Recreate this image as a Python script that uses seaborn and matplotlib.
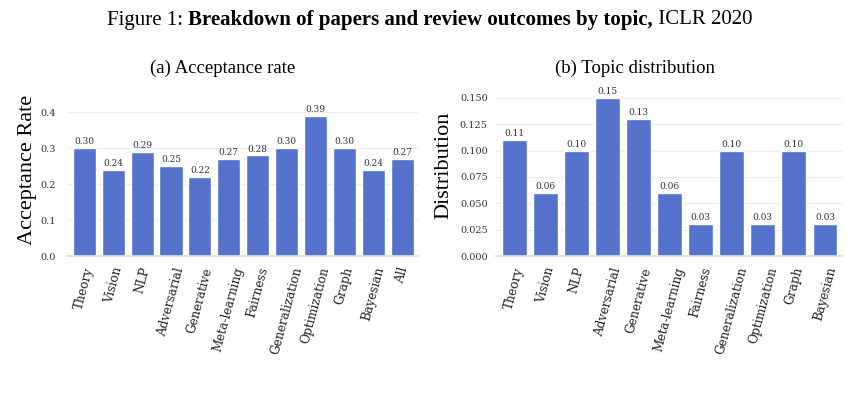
import matplotlib
matplotlib.use("Agg")
import matplotlib.pyplot as plt
import numpy as np
import pandas as pd
import seaborn as sns

# donnees
topics_a = ["Theory", "Vision", "NLP", "Adversarial", "Generative", "Meta-learning",
            "Fairness", "Generalization", "Optimization", "Graph", "Bayesian", "All"]
acceptance = [0.30, 0.24, 0.29, 0.25, 0.22, 0.27, 0.28, 0.30, 0.39, 0.30, 0.24, 0.27]

topics_b = ["Theory", "Vision", "NLP", "Adversarial", "Generative", "Meta-learning",
            "Fairness", "Generalization", "Optimization", "Graph", "Bayesian"]
distribution = [0.11, 0.06, 0.10, 0.15, 0.13, 0.06, 0.03, 0.10, 0.03, 0.10, 0.03]

bar_color = "#5573cd"

sns.set_theme(style="whitegrid")
plt.rcParams['font.family'] = ['DejaVu Serif']

W, H = 857, 397
fig = plt.figure(figsize=(W / 100, H / 100), dpi=100)


def px_axes(x0, x1, ytop, ybot):
    return fig.add_axes([x0 / W, 1 - ybot / H, (x1 - x0) / W, (ybot - ytop) / H])


def draw_panel(ax, cats, vals, ylabel, yticks, fmt, ypad, ylab_x, ylab_y):
    df = pd.DataFrame({"topic": cats, "val": vals})
    sns.barplot(data=df, x="topic", y="val", color=bar_color, saturation=1,
                width=0.8, ax=ax)
    for p, v in zip(ax.patches, vals):
        ax.text(p.get_x() + p.get_width() / 2, p.get_height() + max(vals) * 0.012,
                f"{v:.2f}", ha="center", va="bottom", fontsize=6.5, color="#333333")
    ax.set_xlim(-0.6, len(cats) - 0.45)
    ax.set_ylim(0, max(vals) * 1.05)
    ax.set_yticks(yticks)
    ax.set_yticklabels([fmt.format(t) for t in yticks], fontsize=7, color="#333333")
    ax.set_xticks(range(len(cats)))
    ax.set_xticklabels(cats, rotation=75, ha="center", fontsize=8.7, color="#222222")
    ax.tick_params(axis="x", pad=7, length=0)
    ax.tick_params(axis="y", pad=ypad, length=0)
    ax.set_xlabel("")
    ax.set_ylabel(ylabel, fontsize=16, family="Liberation Serif", color="black")
    # position du label en pixels figure (bord droit du texte)
    ax.yaxis.set_label_coords(ylab_x / W, 1 - ylab_y / H, transform=fig.transFigure)
    ax.grid(axis="x", visible=False)
    ax.grid(axis="y", color="#ececec", linewidth=0.8)
    for s in ["left", "right", "top"]:
        ax.spines[s].set_visible(False)
    ax.spines["bottom"].set_color("#dddddd")


ax1 = px_axes(67, 418, 108.6, 256)
draw_panel(ax1, topics_a, acceptance, "Acceptance Rate",
           [0.0, 0.1, 0.2, 0.3, 0.4], "{:.1f}", 8, 37, 170)

ax2 = px_axes(496, 842, 90, 256)
draw_panel(ax2, topics_b, distribution, "Distribution",
           [0.0, 0.025, 0.05, 0.075, 0.1, 0.125, 0.15], "{:.3f}", 6, 453, 165)

# titre avec parties en gras
parts = [("Figure 1: ", "normal"),
         ("Breakdown of papers and review outcomes by topic,", "bold"),
         (" ICLR 2020", "normal")]
renderer = fig.canvas.get_renderer()
texts = []
for s, w in parts:
    t = fig.text(0, 1 - 20 / H, s, fontsize=15, weight=w, family="Liberation Serif",
                 ha="left", va="center", color="black")
    texts.append(t)
widths = [t.get_window_extent(renderer).width for t in texts]
x = 107
for t, wd in zip(texts, widths):
    t.set_x(x / W)
    x += wd

fig.text(223 / W, 1 - 68 / H, "(a) Acceptance rate", fontsize=13.5,
         family="Liberation Serif", ha="center", va="center", color="black")
fig.text(635 / W, 1 - 68 / H, "(b) Topic distribution", fontsize=13.5,
         family="Liberation Serif", ha="center", va="center", color="black")

fig.savefig("out.png", dpi=100)
